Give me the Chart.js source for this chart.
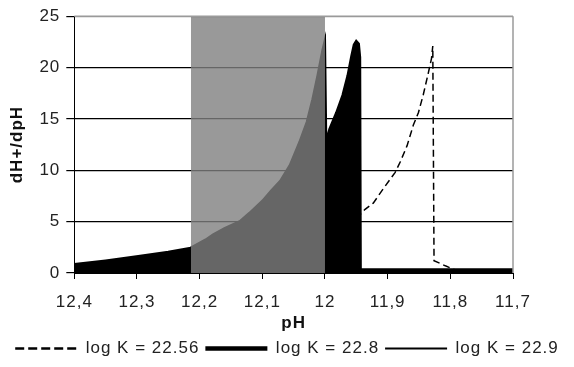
<!DOCTYPE html>
<html>
<head>
<meta charset="utf-8">
<script src="https://cdn.jsdelivr.net/npm/chart.js@4.4.1/dist/chart.umd.min.js"></script>
<style>
  html, body { margin: 0; padding: 0; background: #fff; }
  #wrap { width: 574px; height: 367px; }
</style>
</head>
<body>
<div id="wrap"><canvas id="myChart"></canvas></div>
<script>
// x axis: pH (reversed), y axis: dH+/dpH
const xTickValues = [12.4, 12.3, 12.2, 12.1, 12.0, 11.9, 11.8, 11.7];
const xTickLabels = ['12,4', '12,3', '12,2', '12,1', '12', '11,9', '11,8', '11,7'];
const yTickValues = [0, 5, 10, 15, 20, 25];

// log K = 22.56 (dashed)
const dashPH = [11.95, 11.936, 11.923, 11.907, 11.888, 11.88, 11.869, 11.859, 11.851, 11.843, 11.835, 11.83, 11.828, 11.826, 11.808, 11.8, 11.792, 11.7];
const dashVal = [5.3, 6.2, 6.8, 8.2, 9.8, 10.8, 12.4, 14.4, 15.6, 17.4, 19.5, 20.9, 22.1, 1.2, 0.7, 0.5, 0.3, 0.3];

// log K = 22.8 (thick)
const thickPH = [12.4, 12.35, 12.295, 12.25, 12.214, 12.19, 12.178, 12.16, 12.135, 12.12, 12.099, 12.085, 12.071, 12.055, 12.04, 12.028, 12.019, 12.011, 12.003, 12.001,
                 11.999, 11.995, 11.992, 11.981, 11.971, 11.963, 11.957, 11.953, 11.95, 11.947, 11.945, 11.944, 11.7];
const thickVal = [0.8, 1.15, 1.6, 2.0, 2.4, 3.2, 3.7, 4.3, 5.0, 5.8, 7.0, 8.0, 8.9, 10.5, 12.7, 14.7, 16.9, 19.2, 21.7, 22.2,
                  12.4, 13.3, 14.0, 15.6, 17.3, 19.2, 21.1, 22.2, 22.5, 22.3, 21.0, 0.3, 0.3];

// log K = 22.9 (thin)
const thinPH = [12.4, 12.2, 12.0, 11.9, 11.7];
const thinVal = [0.3, 0.3, 0.3, 0.3, 0.3];

// shaded pH band
const shadePH = [12.214, 12.0];
const shadeVal = [25, 25];

const toPoints = (xs, ys) => xs.map((x, i) => ({ x: x, y: ys[i] }));

// the reference text is slightly spaced out
const spacingPlugin = {
    id: 'spacing',
    beforeUpdate(chart) { chart.ctx.letterSpacing = '1px'; },
    beforeDraw(chart) { chart.ctx.letterSpacing = '1px'; }
};

const borderPlugin = {
    id: 'rightBorder',
    afterDatasetsDraw(chart) {
        const a = chart.chartArea;
        const ctx = chart.ctx;
        ctx.save();
        ctx.strokeStyle = '#9a9a9a';
        ctx.lineWidth = 1.5;
        ctx.beginPath();
        ctx.moveTo(a.right, a.top);
        ctx.lineTo(a.right, a.bottom);
        ctx.moveTo(a.left, a.top);
        ctx.lineTo(a.right, a.top);
        ctx.stroke();
        ctx.restore();
    }
};

const fontFamily = '"Liberation Sans", Arial, sans-serif';

new Chart(document.getElementById('myChart'), {
    type: 'line',
    data: {
        datasets: [
            {
                label: 'shade',
                data: toPoints(shadePH, shadeVal),
                borderWidth: 0,
                pointRadius: 0,
                fill: 'origin',
                backgroundColor: 'rgba(128,128,128,0.8)',
                order: 0
            },
            {
                label: 'log K = 22.56',
                data: toPoints(dashPH, dashVal),
                borderColor: '#000',
                borderWidth: 1.5,
                borderDash: [7, 4],
                pointRadius: 0,
                fill: false,
                order: 1
            },
            {
                label: 'log K = 22.8',
                data: toPoints(thickPH, thickVal),
                borderColor: '#000',
                backgroundColor: '#000',
                borderWidth: 3.5,
                pointRadius: 0,
                fill: 'origin',
                order: 2
            },
            {
                label: 'log K = 22.9',
                data: toPoints(thinPH, thinVal),
                borderColor: '#000',
                borderWidth: 1.2,
                pointRadius: 0,
                fill: false,
                order: 3
            }
        ]
    },
    options: {
        responsive: true,
        maintainAspectRatio: false,
        animation: false,
        layout: { autoPadding: false, padding: { left: 0, right: 0, top: 10, bottom: 0 } },
        scales: {
            x: {
                type: 'linear',
                reverse: true,
                min: 11.7,
                max: 12.4,
                afterBuildTicks: (scale) => { scale.ticks = xTickValues.map(v => ({ value: v })); },
                afterFit: (scale) => { scale.height = 61; },
                ticks: {
                    color: '#222',
                    font: { family: fontFamily, size: 17 },
                    padding: 13,
                    maxRotation: 0,
                    callback: (v, i) => xTickLabels[i]
                },
                grid: { drawOnChartArea: false, color: '#000', tickLength: 6 },
                border: { color: '#000', width: 1 },
                title: {
                    display: true,
                    text: 'pH',
                    color: '#111',
                    font: { family: fontFamily, size: 17, weight: 'bold' },
                    padding: { top: 0, bottom: 0 }
                }
            },
            y: {
                min: 0,
                max: 25,
                afterBuildTicks: (scale) => { scale.ticks = yTickValues.map(v => ({ value: v })); },
                ticks: {
                    color: '#222',
                    font: { family: fontFamily, size: 17 },
                    padding: 6
                },
                grid: {
                    color: (c) => c.tick && c.tick.value === 25 ? '#9a9a9a' : '#000',
                    tickColor: '#000',
                    lineWidth: 1.2,
                    tickLength: 8
                },
                border: { color: '#000', width: 1 },
                title: {
                    display: true,
                    text: 'dH+/dpH',
                    color: '#111',
                    font: { family: fontFamily, size: 17, weight: 'bold' },
                    padding: { top: 7, bottom: 6 }
                }
            },
            // empty axis that only keeps room on the right of the plot
            yRight: {
                position: 'right',
                display: true,
                ticks: { display: false },
                grid: { display: false },
                border: { display: false },
                afterFit: (scale) => { scale.width = 61; }
            }
        },
        plugins: {
            tooltip: { enabled: false },
            legend: {
                position: 'bottom',
                labels: {
                    usePointStyle: true,
                    pointStyleWidth: 62,
                    color: '#222',
                    font: { family: fontFamily, size: 17 },
                    padding: 6,
                    generateLabels: (chart) => chart.data.datasets
                        .map((ds, i) => ({ ds: ds, i: i }))
                        .filter(o => o.ds.label !== 'shade')
                        .map(o => ({
                            text: o.ds.label,
                            datasetIndex: o.i,
                            pointStyle: 'line',
                            strokeStyle: '#000',
                            fillStyle: '#000',
                            lineWidth: o.ds.borderWidth + 1,
                            lineDash: o.ds.borderDash ? [9, 4] : [],
                            fontColor: '#222',
                            hidden: false
                        }))
                }
            }
        }
    },
    plugins: [spacingPlugin, borderPlugin]
});
</script>
</body>
</html>
